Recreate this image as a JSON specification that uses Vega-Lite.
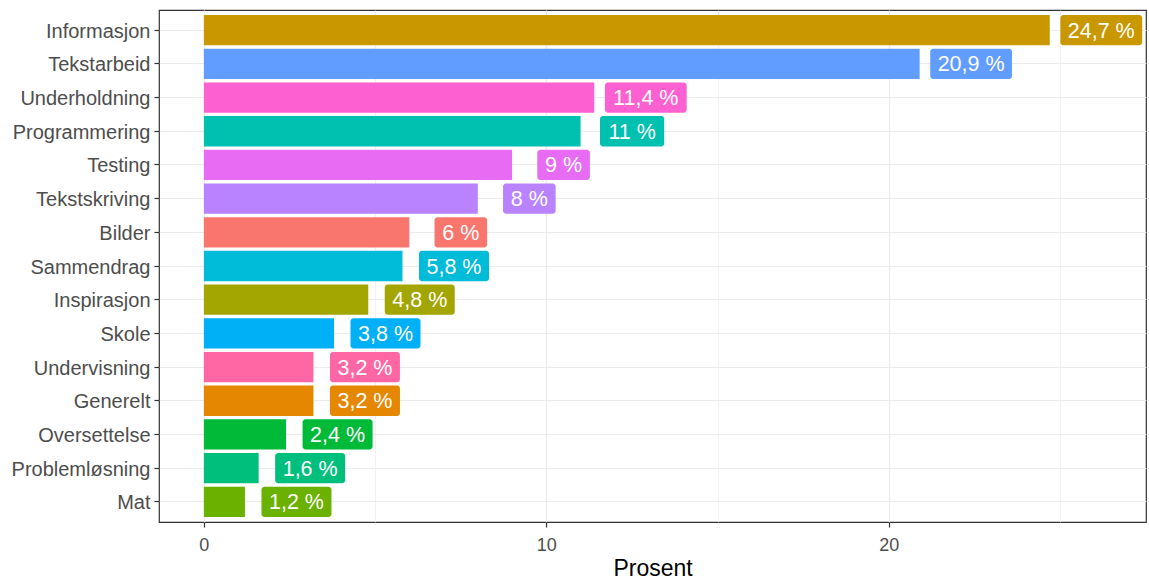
{
  "$schema": "https://vega.github.io/schema/vega-lite/v6.json",
  "width": 987,
  "height": 512,
  "autosize": "none",
  "padding": {"left": 159, "top": 10, "right": 3, "bottom": 63},
  "background": "white",
  "config": {
    "view": {"stroke": "#333333", "strokeWidth": 1.2},
    "font": "Liberation Sans"
  },
  "data": {
    "values": [
      {"Kategori": "Informasjon", "Prosent": 24.7, "label": "24,7 %"},
      {"Kategori": "Tekstarbeid", "Prosent": 20.9, "label": "20,9 %"},
      {"Kategori": "Underholdning", "Prosent": 11.4, "label": "11,4 %"},
      {"Kategori": "Programmering", "Prosent": 11.0, "label": "11 %"},
      {"Kategori": "Testing", "Prosent": 9.0, "label": "9 %"},
      {"Kategori": "Tekstskriving", "Prosent": 8.0, "label": "8 %"},
      {"Kategori": "Bilder", "Prosent": 6.0, "label": "6 %"},
      {"Kategori": "Sammendrag", "Prosent": 5.8, "label": "5,8 %"},
      {"Kategori": "Inspirasjon", "Prosent": 4.8, "label": "4,8 %"},
      {"Kategori": "Skole", "Prosent": 3.8, "label": "3,8 %"},
      {"Kategori": "Undervisning", "Prosent": 3.2, "label": "3,2 %"},
      {"Kategori": "Generelt", "Prosent": 3.2, "label": "3,2 %"},
      {"Kategori": "Oversettelse", "Prosent": 2.4, "label": "2,4 %"},
      {"Kategori": "Problemløsning", "Prosent": 1.6, "label": "1,6 %"},
      {"Kategori": "Mat", "Prosent": 1.2, "label": "1,2 %"}
    ]
  },
  "encoding": {
    "y": {
      "field": "Kategori",
      "type": "nominal",
      "sort": ["Informasjon", "Tekstarbeid", "Underholdning", "Programmering", "Testing", "Tekstskriving", "Bilder", "Sammendrag", "Inspirasjon", "Skole", "Undervisning", "Generelt", "Oversettelse", "Problemløsning", "Mat"],
      "scale": {"paddingInner": 0.1, "paddingOuter": 0.15},
      "axis": {
        "title": null,
        "domain": false,
        "grid": true,
        "bandPosition": 0.5,
        "gridColor": "#EBEBEB",
        "gridWidth": 1.2,
        "tickColor": "#333333",
        "tickSize": 5,
        "tickWidth": 1.2,
        "labelFontSize": 20,
        "labelColor": "#4D4D4D",
        "labelPadding": 4,
        "labelOffset": 1.5
      }
    },
    "color": {
      "field": "Kategori",
      "type": "nominal",
      "legend": null,
      "scale": {
        "domain": ["Bilder", "Generelt", "Informasjon", "Inspirasjon", "Mat", "Oversettelse", "Problemløsning", "Programmering", "Sammendrag", "Skole", "Tekstarbeid", "Tekstskriving", "Testing", "Underholdning", "Undervisning"],
        "range": ["#F8766D", "#E58700", "#C99800", "#A3A500", "#6BB100", "#00BA38", "#00BF7D", "#00C0AF", "#00BCD8", "#00B0F6", "#619CFF", "#B983FF", "#E76BF3", "#FD61D1", "#FF67A4"]
      }
    }
  },
  "layer": [
    {
      "mark": {"type": "bar"},
      "encoding": {
        "x": {
          "field": "Prosent",
          "type": "quantitative",
          "scale": {"domain": [-1.31, 27.51], "nice": false, "zero": false},
          "axis": {
            "values": [0, 10, 20],
            "grid": true,
            "gridColor": "#EBEBEB",
            "gridWidth": 1.2,
            "domain": false,
            "tickColor": "#333333",
            "tickSize": 5,
            "tickWidth": 1.2,
            "labelFontSize": 18,
            "labelColor": "#4D4D4D",
            "labelPadding": 9,
            "title": "Prosent",
            "titleFontSize": 23,
            "titleFontWeight": "normal",
            "titleColor": "#000000",
            "titlePadding": 3
          }
        }
      }
    },
    {
      "mark": {"type": "rule", "opacity": 0},
      "encoding": {
        "x": {
          "field": "Prosent",
          "type": "quantitative",
          "axis": {
            "values": [5, 15, 25],
            "grid": true,
            "gridColor": "#EBEBEB",
            "gridWidth": 0.7,
            "domain": false,
            "ticks": false,
            "labels": false,
            "title": null
          }
        }
      }
    },
    {
      "transform": [{"filter": "length(datum.label) == 3"}],
      "mark": {"type": "rect", "cornerRadius": 3, "xOffset": 25.2, "x2Offset": 77.8},
      "encoding": {
        "x": {"field": "Prosent", "type": "quantitative", "axis": null},
        "x2": {"field": "Prosent"}
      }
    },
    {
      "transform": [{"filter": "length(datum.label) == 4"}],
      "mark": {"type": "rect", "cornerRadius": 3, "xOffset": 19.4, "x2Offset": 83.6},
      "encoding": {
        "x": {"field": "Prosent", "type": "quantitative", "axis": null},
        "x2": {"field": "Prosent"}
      }
    },
    {
      "transform": [{"filter": "length(datum.label) == 5"}],
      "mark": {"type": "rect", "cornerRadius": 3, "xOffset": 16.5, "x2Offset": 86.5},
      "encoding": {
        "x": {"field": "Prosent", "type": "quantitative", "axis": null},
        "x2": {"field": "Prosent"}
      }
    },
    {
      "transform": [{"filter": "length(datum.label) == 6"}],
      "mark": {"type": "rect", "cornerRadius": 3, "xOffset": 10.6, "x2Offset": 92.4},
      "encoding": {
        "x": {"field": "Prosent", "type": "quantitative", "axis": null},
        "x2": {"field": "Prosent"}
      }
    },
    {
      "mark": {"type": "text", "dx": 51.5, "dy": 1.5, "align": "center", "baseline": "middle", "fontSize": 21.5, "color": "white"},
      "encoding": {
        "x": {"field": "Prosent", "type": "quantitative", "axis": null},
        "text": {"field": "label"},
        "color": {"value": "white"}
      }
    }
  ],
  "resolve": {"axis": {"x": "independent"}}
}
